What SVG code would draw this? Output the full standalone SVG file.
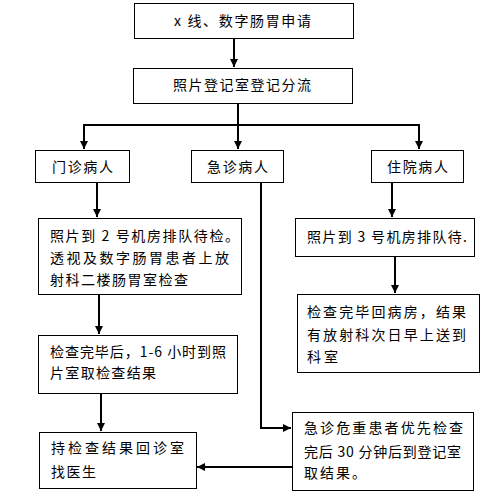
<svg xmlns="http://www.w3.org/2000/svg" width="503" height="498" viewBox="0 0 503 498">
<style>
.box{fill:#fff;stroke:#000;stroke-width:1}
.t{font-family:"Noto Sans CJK SC","Noto Sans",sans-serif;font-size:14px;fill:#000}
.c{fill:none;stroke:#000;stroke-width:2}
</style>
<defs>
<marker id="ah" markerUnits="userSpaceOnUse" markerWidth="9" markerHeight="9" refX="8" refY="4" orient="auto">
<path d="M0,0 L8,4 L0,8 z" fill="#000"/>
</marker>
</defs>
<rect width="503" height="498" fill="#fff"/>
<g id="connectors">
<path class="c" d="M234,38 V67" marker-end="url(#ah)"/>
<path class="c" d="M238,103 V149" marker-end="url(#ah)"/>
<path class="c" d="M238,125 H84 V149" marker-end="url(#ah)"/>
<path class="c" d="M238,125 H419 V149" marker-end="url(#ah)"/>
<path class="c" d="M97,182 V217" marker-end="url(#ah)"/>
<path class="c" d="M392,182 V217" marker-end="url(#ah)"/>
<path class="c" d="M395,257 V293" marker-end="url(#ah)"/>
<path class="c" d="M99,294 V334" marker-end="url(#ah)"/>
<path class="c" d="M101,393 V431" marker-end="url(#ah)"/>
<path class="c" d="M261,182 V428 H291" marker-end="url(#ah)"/>
<path class="c" d="M292,467 H197" marker-end="url(#ah)"/>
</g>
<g id="n1">
<rect class="box" x="134.5" y="3.5" width="219" height="35"/>
<text class="t" x="174" y="26" textLength="137" lengthAdjust="spacing">x 线、数字肠胃申请</text>
</g>
<g id="n2">
<rect class="box" x="133.5" y="68.5" width="219" height="35"/>
<text class="t" x="173" y="90" textLength="138" lengthAdjust="spacing">照片登记室登记分流</text>
</g>
<g id="n3">
<rect class="box" x="35.5" y="150.5" width="94" height="32"/>
<text class="t" x="52" y="172" textLength="61" lengthAdjust="spacing">门诊病人</text>
</g>
<g id="n4">
<rect class="box" x="191.5" y="150.5" width="92" height="32"/>
<text class="t" x="207" y="172" textLength="61" lengthAdjust="spacing">急诊病人</text>
</g>
<g id="n5">
<rect class="box" x="371.5" y="150.5" width="92" height="32"/>
<text class="t" x="387" y="172" textLength="61" lengthAdjust="spacing">住院病人</text>
</g>
<g id="n6">
<rect class="box" x="38.5" y="218.5" width="203" height="76"/>
<text class="t" x="50" y="241" textLength="189" lengthAdjust="spacing">照片到 2 号机房排队待检。</text>
<text class="t" x="50" y="263" textLength="179" lengthAdjust="spacing">透视及数字肠胃患者上放</text>
<text class="t" x="50" y="285" textLength="138" lengthAdjust="spacing">射科二楼肠胃室检查</text>
</g>
<g id="n7">
<rect class="box" x="295.5" y="218.5" width="179" height="38"/>
<text class="t" x="307" y="242" textLength="160" lengthAdjust="spacing">照片到 3 号机房排队待.</text>
</g>
<g id="n8">
<rect class="box" x="297.5" y="294.5" width="182" height="78"/>
<text class="t" x="307" y="317" textLength="159" lengthAdjust="spacing">检查完毕回病房，结果</text>
<text class="t" x="307" y="340" textLength="159" lengthAdjust="spacing">有放射科次日早上送到</text>
<text class="t" x="307" y="362" textLength="31" lengthAdjust="spacing">科室</text>
</g>
<g id="n9">
<rect class="box" x="38.5" y="335.5" width="199" height="58"/>
<text class="t" x="50" y="357" textLength="176" lengthAdjust="spacing">检查完毕后，1-6 小时到照</text>
<text class="t" x="50" y="378" textLength="106" lengthAdjust="spacing">片室取检查结果</text>
</g>
<g id="n10">
<rect class="box" x="39.5" y="432.5" width="157" height="56"/>
<text class="t" x="51" y="453" textLength="133" lengthAdjust="spacing">持检查结果回诊室</text>
<text class="t" x="51" y="477" textLength="45" lengthAdjust="spacing">找医生</text>
</g>
<g id="n11">
<rect class="box" x="292.5" y="412.5" width="181" height="78"/>
<text class="t" x="304" y="433" textLength="159" lengthAdjust="spacing">急诊危重患者优先检查</text>
<text class="t" x="304" y="457" textLength="157" lengthAdjust="spacing">完后 30 分钟后到登记室</text>
<text class="t" x="304" y="478" textLength="62" lengthAdjust="spacing">取结果。</text>
</g>
</svg>
